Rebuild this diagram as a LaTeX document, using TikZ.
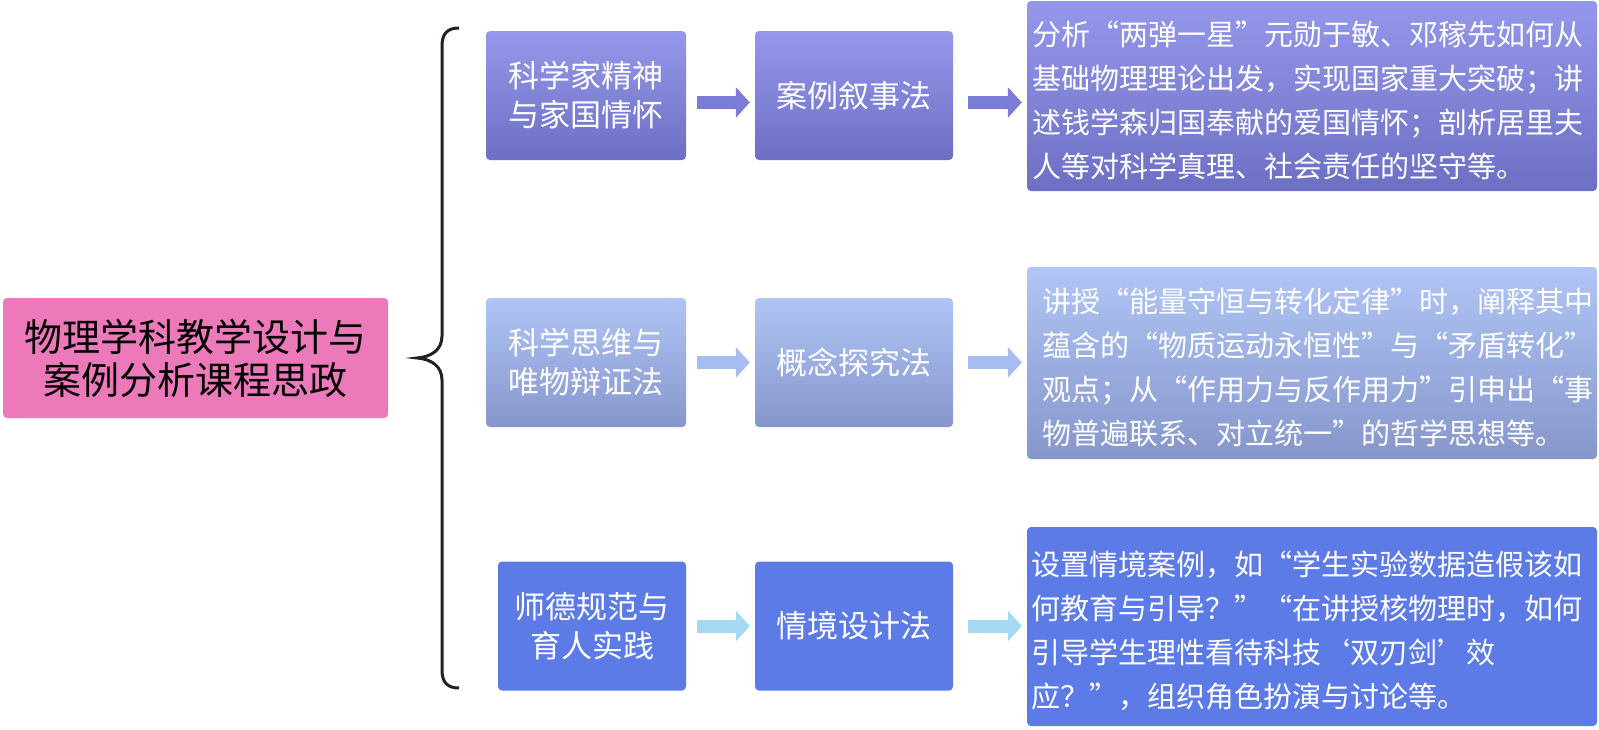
\documentclass[tikz,border=0pt]{standalone}
\usepackage{fontspec}
\newfontfamily\cjk{Noto Sans CJK SC}
\usetikzlibrary{arrows.meta}
\definecolor{pinkc}{HTML}{EC79B9}
\definecolor{pA}{HTML}{9598EA}
\definecolor{pB}{HTML}{6C6FC3}
\definecolor{bA}{HTML}{B0C5F6}
\definecolor{bB}{HTML}{8696CB}
\definecolor{blueC}{HTML}{5C7BE6}
\definecolor{arrA}{HTML}{7A7DD5}
\definecolor{arrB}{HTML}{A7BCF1}
\definecolor{arrC}{HTML}{A6D9F1}
\definecolor{bracec}{HTML}{1E2227}
\newcommand{\lowtext}[2]{\raisebox{-4pt}[\height][\depth]{\parbox{#1}{\raggedright #2}}}
\begin{document}
\begin{tikzpicture}[x=1pt,y=-1pt,
  box/.style={rounded corners=4pt, inner sep=0pt, align=center, text=white,
    font=\cjk\fontsize{31}{39}\selectfont, minimum height=129pt},
  gone/.style={top color=pA, bottom color=pB},
  gtwo/.style={top color=bA, bottom color=bB},
  gthree/.style={fill=blueC},
  tbox/.style={rounded corners=4pt, inner ysep=0pt, text=white,
    font=\cjk\fontsize{29}{44}\selectfont},
  arr/.style={line width=13pt, -{Triangle[length=14pt,width=30pt]}},
  pinkbox/.style={rounded corners=4pt, fill=pinkc, inner sep=0pt, align=center, text=black,
    font=\cjk\fontsize{38}{43}\selectfont, minimum width=385pt, minimum height=120pt}
]
\useasboundingbox (0,0) rectangle (1599,729);

\node[pinkbox] (root) at (195.5,358) {物理学科教学设计与\\案例分析课程思政};

\draw[bracec, line width=3pt] (459,28) .. controls (448,28) and (442,33) .. (442,46)
  -- (442,336) .. controls (442,350) and (431,357) .. (417,358)
  .. controls (431,359) and (442,366) .. (442,380)
  -- (442,670) .. controls (442,683) and (448,688) .. (459,688);

% row 1
\node[box, gone, minimum width=200pt] (a1) at (586,95.5) {科学家精神\\与家国情怀};
\node[box, gone, minimum width=198pt] (b1) at (854,95.5) {案例叙事法};
\node[tbox, gone, minimum height=190pt, inner xsep=5pt] (c1) at (1312,96)
  {\lowtext{560pt}{分析“两弹一星”元勋于敏、邓稼先如何从\\基础物理理论出发，实现国家重大突破；讲\\述钱学森归国奉献的爱国情怀；剖析居里夫\\人等对科学真理、社会责任的坚守等。}};
% row 2
\node[box, gtwo, minimum width=200pt] (a2) at (586,362.5) {科学思维与\\唯物辩证法};
\node[box, gtwo, minimum width=198pt] (b2) at (854,362.5) {概念探究法};
\node[tbox, gtwo, minimum height=192pt, inner xsep=15pt] (c2) at (1312,363)
  {\lowtext{540pt}{讲授“能量守恒与转化定律”时，阐释其中\\蕴含的“物质运动永恒性”与“矛盾转化”\\观点；从“作用力与反作用力”引申出“事\\物普遍联系、对立统一”的哲学思想等。}};
% row 3
\node[box, gthree, minimum width=188pt] (a3) at (592,626) {师德规范与\\育人实践};
\node[box, gthree, minimum width=198pt] (b3) at (854,626) {情境设计法};
\node[tbox, gthree, minimum height=199pt, inner xsep=4pt] (c3) at (1312,626.5)
  {\lowtext{562pt}{设置情境案例，如“学生实验数据造假该如\\何教育与引导？”“在讲授核物理时，如何\\引导学生理性看待科技‘双刃剑’效\\应？”，组织角色扮演与讨论等。}};

% arrows
\draw[arr, arrA, shorten <=11pt, shorten >=5pt] ([yshift=-7pt]a1.east) -- ([yshift=-7pt]b1.west);
\draw[arr, arrA, shorten <=15pt, shorten >=5pt] ([yshift=-7pt]b1.east) -- ([yshift=-7pt]b1.east -| c1.west);
\draw[arr, arrB, shorten <=11pt, shorten >=5pt] (a2.east) -- (b2.west);
\draw[arr, arrB, shorten <=15pt, shorten >=5pt] (b2.east) -- (b2.east -| c2.west);
\draw[arr, arrC, shorten <=11pt, shorten >=5pt] (a3.east) -- (b3.west);
\draw[arr, arrC, shorten <=15pt, shorten >=5pt] (b3.east) -- (b3.east -| c3.west);
\end{tikzpicture}
\end{document}
